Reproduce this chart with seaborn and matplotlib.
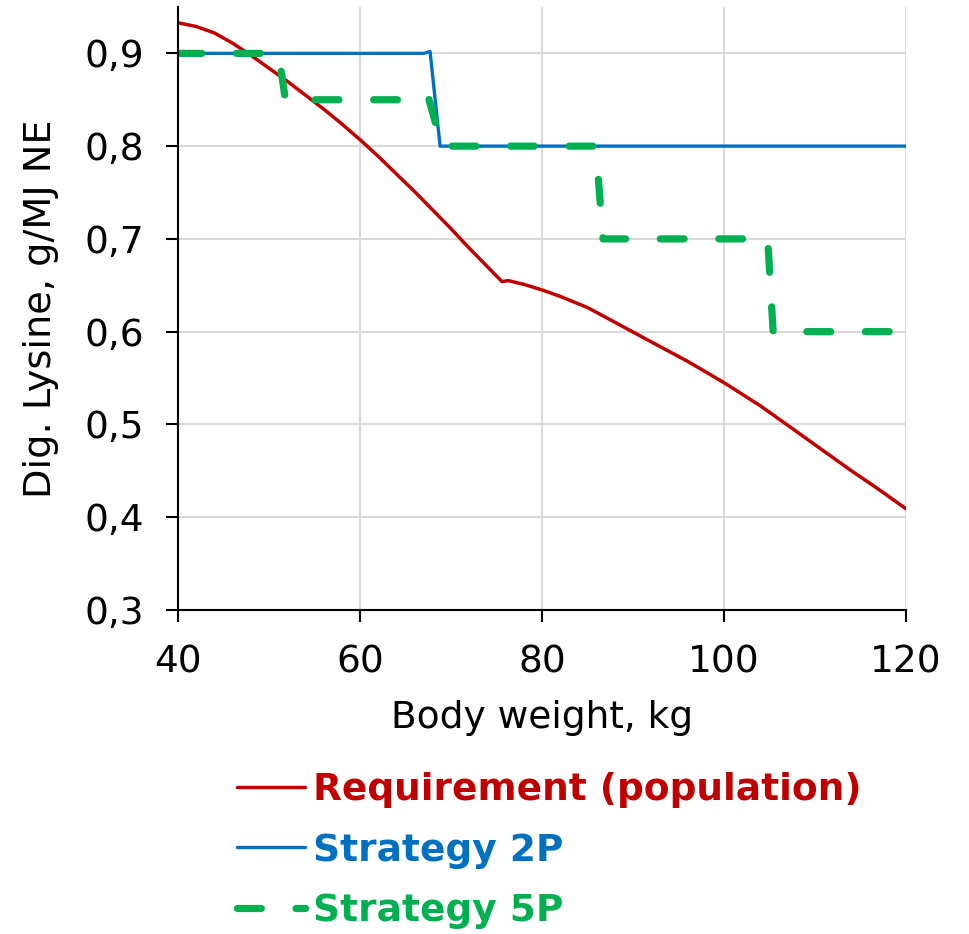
import matplotlib
matplotlib.use("Agg")
import matplotlib.pyplot as plt
import seaborn as sns

# Requirement curve
req_weight = [40, 42, 44, 46, 48, 50, 52, 54, 56, 58, 60, 62, 64, 66, 68, 70, 72, 74, 75.6, 76.3,
              78, 80, 82, 85, 88.6, 92, 96, 100, 104, 107.3, 110, 114, 117, 120]
req_lysine = [0.933, 0.929, 0.922, 0.911, 0.898, 0.884, 0.870, 0.855, 0.840, 0.824, 0.807, 0.789,
              0.770, 0.751, 0.731, 0.711, 0.690, 0.670, 0.654, 0.655, 0.651, 0.645, 0.638, 0.626,
              0.607, 0.589, 0.568, 0.545, 0.520, 0.497, 0.478, 0.450, 0.430, 0.409]

# Strategy 2P (two phases)
s2_weight = [40, 67.0, 67.7, 68.8, 69.3, 120]
s2_lysine = [0.9, 0.9, 0.902, 0.800, 0.800, 0.8]

# Strategy 5P (five phases)
s5_weight = [40, 50.8, 51.2, 51.8, 52.2, 67.2, 67.5, 69.0, 69.4, 85.7, 86.0, 86.7, 87.1, 104.4, 104.8, 105.4, 105.8, 120]
s5_lysine = [0.9, 0.9, 0.89, 0.85, 0.85, 0.85, 0.853, 0.80, 0.80, 0.80, 0.79, 0.70, 0.70, 0.70, 0.70, 0.60, 0.60, 0.60]

labels = ["Requirement (population)", "Strategy 2P", "Strategy 5P"]
colors = ["#c00000", "#0070c0", "#00b050"]
y_ticks = [0.3, 0.4, 0.5, 0.6, 0.7, 0.8, 0.9]

sns.set_style("white")
plt.rcParams["font.family"] = ["DejaVu Sans"]

fig = plt.figure(figsize=(9.69, 9.34), dpi=100)
ax = fig.add_axes([0.1837, 0.347, 0.7513, 0.6455])

sns.lineplot(x=req_weight, y=req_lysine, ax=ax, color=colors[0], linewidth=2.5,
             label=labels[0], estimator=None, sort=False)
sns.lineplot(x=s2_weight, y=s2_lysine, ax=ax, color=colors[1], linewidth=2.4,
             label=labels[1], estimator=None, sort=False)
sns.lineplot(x=s5_weight, y=s5_lysine, ax=ax, color=colors[2], linewidth=5.2,
             label=labels[2], estimator=None, sort=False, linestyle="--")
green = ax.get_lines()[2]
green.set_dashes((3.3, 4.8))
green.set_dash_capstyle("round")

ax.set_xlim(40, 120)
ax.set_ylim(0.3, 0.95)
ax.set_xticks([40, 60, 80, 100, 120])
ax.set_yticks(y_ticks)
ax.set_yticklabels([f"{v:.1f}".replace(".", ",") for v in y_ticks])
ax.grid(True, color="#d9d9d9", linewidth=1.5)
ax.set_axisbelow(True)
for side in ["top", "right"]:
    ax.spines[side].set_visible(False)
for side in ["left", "bottom"]:
    ax.spines[side].set_color("black")
    ax.spines[side].set_linewidth(1.5)
ax.tick_params(axis="both", labelsize=27, length=8.6, width=1.5, direction="out",
               bottom=True, left=True, colors="black", pad=16)
ax.set_xlabel("Body weight, kg", fontsize=27, labelpad=14, color="black")
ax.set_ylabel("Dig. Lysine, g/MJ NE", fontsize=27.5, labelpad=18, color="black")

handles, lbls = ax.get_legend_handles_labels()
ax.get_legend().remove()
leg = fig.legend(handles, lbls, loc="upper left", bbox_to_anchor=(0.2446, 0.173),
                 frameon=False, prop={"weight": "bold", "size": 27},
                 handlelength=1.81, handletextpad=0.21, labelspacing=0.645,
                 labelcolor=colors, borderaxespad=0, borderpad=0)

fig.savefig("out.png", dpi=100)
plt.close(fig)
